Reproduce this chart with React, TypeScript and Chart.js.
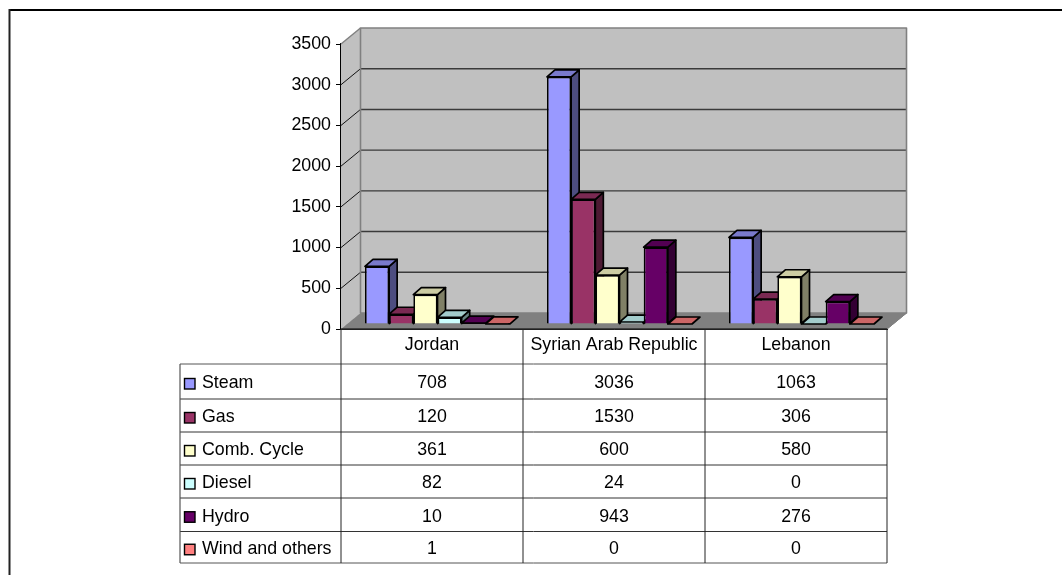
import React, { useEffect, useRef } from "react";
import { Chart, registerables } from "chart.js";

Chart.register(...registerables);

const categories = ["Jordan", "Syrian Arab Republic", "Lebanon"];
const seriesNames = ["Steam", "Gas", "Comb. Cycle", "Diesel", "Hydro", "Wind and others"];
const steam = [708, 3036, 1063];
const gas = [120, 1530, 306];
const combCycle = [361, 600, 580];
const diesel = [82, 24, 0];
const hydro = [10, 943, 276];
const windOthers = [1, 0, 0];
const seriesValues = [steam, gas, combCycle, diesel, hydro, windOthers];
const faceColors = ["#9999FF", "#993366", "#FFFFCC", "#CCFFFF", "#660066", "#FF8080"];
const topColors = ["#7A7ACC", "#7A2952", "#CCCCA3", "#A3CCCC", "#520052", "#CC6666"];
const sideColors = ["#4D4D80", "#4D1A33", "#808066", "#668080", "#330033", "#804040"];
const yTicks = [0, 500, 1000, 1500, 2000, 2500, 3000, 3500];

const FAMILY = '"Liberation Sans", Arial, sans-serif';
const FONT = `17.8px ${FAMILY}`;
const WALL_DX = 19.5;
const WALL_DY = 16;
const BAR_SHIFT_X = 5.5;
const BAR_SHIFT_Y = -5;
const BAR_DX = 8;
const BAR_DY = 7;
const BAR_LINE = 1.7;
const TABLE_LEFT = 180;
const ROW_LINES = [364, 399, 432, 465, 498, 531.5, 563];

const poly = (ctx: CanvasRenderingContext2D, pts: number[][], fill: string, stroke?: string, lw = 1) => {
  ctx.beginPath();
  pts.forEach(([x, y], i) => (i ? ctx.lineTo(x, y) : ctx.moveTo(x, y)));
  ctx.closePath();
  ctx.fillStyle = fill;
  ctx.fill();
  if (stroke) {
    ctx.strokeStyle = stroke;
    ctx.lineWidth = lw;
    ctx.lineJoin = "round";
    ctx.stroke();
  }
};

const line = (ctx: CanvasRenderingContext2D, x1: number, y1: number, x2: number, y2: number, color: string, lw: number) => {
  ctx.beginPath();
  ctx.moveTo(x1, y1);
  ctx.lineTo(x2, y2);
  ctx.strokeStyle = color;
  ctx.lineWidth = lw;
  ctx.stroke();
};

const excel3d = {
  id: "excel3d",
  beforeDraw(chart: any) {
    const ctx = chart.ctx;
    ctx.save();
    ctx.fillStyle = "#ffffff";
    ctx.fillRect(0, 0, chart.width, chart.height);
    line(ctx, 9, 10, chart.width, 10, "#000", 2);
    line(ctx, 9.5, 9, 9.5, chart.height, "#222", 2);
    ctx.restore();
  },
  beforeDatasetsDraw(chart: any) {
    const { ctx, chartArea: a, scales } = chart;
    const y = scales.y;
    ctx.save();
    const top = a.top, bottom = a.bottom, left = a.left, right = a.right;
    poly(ctx, [[left, bottom], [left + WALL_DX, bottom - WALL_DY], [right + WALL_DX, bottom - WALL_DY], [right, bottom]], "#808080", "#808080", 1);
    poly(ctx, [[left, top], [left + WALL_DX, top - WALL_DY], [left + WALL_DX, bottom - WALL_DY], [left, bottom]], "#C0C0C0");
    poly(ctx, [[left + WALL_DX, top - WALL_DY], [right + WALL_DX, top - WALL_DY], [right + WALL_DX, bottom - WALL_DY], [left + WALL_DX, bottom - WALL_DY]], "#C0C0C0");
    yTicks.forEach((t) => {
      const py = y.getPixelForValue(t);
      if (t > 0 && t < 3500) line(ctx, left + WALL_DX, py - WALL_DY, right + WALL_DX, py - WALL_DY, "#3a3a3a", 1.4);
      if (t > 0 && t < 3500) line(ctx, left, py, left + WALL_DX, py - WALL_DY, "#111", 1);
    });
    line(ctx, left, top, left + WALL_DX, top - WALL_DY, "#808080", 1.5);
    poly(ctx, [[left + WALL_DX, top - WALL_DY], [right + WALL_DX, top - WALL_DY], [right + WALL_DX, bottom - WALL_DY], [left + WALL_DX, bottom - WALL_DY]], "rgba(0,0,0,0)", "#808080", 1.6);
    line(ctx, right + WALL_DX, bottom - WALL_DY, right, bottom, "#808080", 1);
    ctx.restore();
  },
  // Native per-dataset pass is replaced by a left-to-right pass below, so a bar's
  // front face overlaps the side of the bar before it, as in the reference.
  beforeDatasetDraw() {
    return false;
  },
  afterDatasetsDraw(chart: any) {
    const ctx = chart.ctx;
    seriesNames.forEach((_, i) => {
      const meta = chart.getDatasetMeta(i);
      ctx.save();
      ctx.translate(BAR_SHIFT_X, BAR_SHIFT_Y);
      meta.data.forEach((el: any) => {
        const hw = el.width / 2;
        const x0 = el.x - hw, x1 = el.x + hw, yt = el.y, yb = el.base;
        if (yb - yt > 0.5) {
          poly(ctx, [[x1, yt], [x1 + BAR_DX, yt - BAR_DY], [x1 + BAR_DX, yb - BAR_DY], [x1, yb]], sideColors[i], "#000", BAR_LINE);
        }
        poly(ctx, [[x0, yt], [x0 + BAR_DX, yt - BAR_DY], [x1 + BAR_DX, yt - BAR_DY], [x1, yt]], topColors[i], "#000", BAR_LINE);
      });
      meta.controller.draw();
      ctx.restore();
    });
  },
  afterDraw(chart: any) {
    const { ctx, chartArea: a, scales } = chart;
    const x = scales.x;
    const colW = (a.right - a.left) / categories.length;
    ctx.save();
    ctx.font = FONT;
    ctx.textBaseline = "middle";
    line(ctx, a.left, a.bottom, a.right, a.bottom, "#000", 1);
    ROW_LINES.forEach((ry, i) => {
      const c = i === ROW_LINES.length - 1 || i === 0 ? "#555" : "#333";
      line(ctx, TABLE_LEFT, ry, a.right, ry, c, 1);
    });
    line(ctx, TABLE_LEFT, ROW_LINES[0], TABLE_LEFT, ROW_LINES[6], "#555", 1.2);
    for (let c = 0; c <= categories.length; c++) {
      const vx = a.left + c * colW;
      line(ctx, vx, a.bottom, vx, ROW_LINES[6], "#222", 1);
    }
    seriesNames.forEach((name, r) => {
      const cy = (ROW_LINES[r] + ROW_LINES[r + 1]) / 2 + 2;
      ctx.fillStyle = faceColors[r];
      ctx.fillRect(184.5, cy - 5, 10.5, 10.5);
      ctx.strokeStyle = "#000";
      ctx.lineWidth = 1.4;
      ctx.strokeRect(184.5, cy - 5, 10.5, 10.5);
      ctx.fillStyle = "#000";
      ctx.textAlign = "left";
      ctx.fillText(name, 202, cy);
      ctx.textAlign = "center";
      seriesValues[r].forEach((v, c) => {
        ctx.fillText(String(v), x.getPixelForValue(c), cy);
      });
    });
    ctx.restore();
  },
};

export default function App() {
  const ref = useRef<HTMLCanvasElement | null>(null);
  useEffect(() => {
    const chart = new Chart(ref.current as HTMLCanvasElement, {
      type: "bar",
      data: {
        labels: categories,
        datasets: seriesNames.map((name, i) => ({
          label: name,
          data: seriesValues[i],
          backgroundColor: faceColors[i],
          borderColor: "#000",
          borderWidth: BAR_LINE,
          categoryPercentage: 0.797,
          barPercentage: 1,
        })),
      },
      plugins: [excel3d],
      options: {
        responsive: false,
        animation: false,
        devicePixelRatio: 1,
        layout: { padding: { left: 0, top: 44, right: 175, bottom: 211 } },
        plugins: { legend: { display: false }, title: { display: false }, tooltip: { enabled: false } },
        scales: {
          x: {
            type: "category",
            afterFit: (s: any) => { s.height = 35; },
            grid: { display: false, drawTicks: false },
            border: { display: true, color: "#000" },
            ticks: { color: "#000", font: { family: FAMILY, size: 17.8 }, padding: 5, maxRotation: 0, autoSkip: false },
          },
          y: {
            min: 0,
            max: 3500,
            afterFit: (s: any) => { s.width = 341; },
            afterBuildTicks: (s: any) => { s.ticks = yTicks.map((value) => ({ value })); },
            grid: { drawOnChartArea: false, drawTicks: true, tickLength: 5, color: "#000" },
            border: { display: true, color: "#000", width: 1.5 },
            ticks: { color: "#000", font: { family: FAMILY, size: 17.8 }, padding: 5, callback: (v: any) => String(v) },
          },
        },
      } as any,
    });
    return () => chart.destroy();
  }, []);
  return (
    <div style={{ position: "fixed", left: 0, top: 0, width: 1062, height: 575, overflow: "hidden", background: "#fff" }}>
      <canvas ref={ref} width={1062} height={575} style={{ display: "block" }} />
    </div>
  );
}
